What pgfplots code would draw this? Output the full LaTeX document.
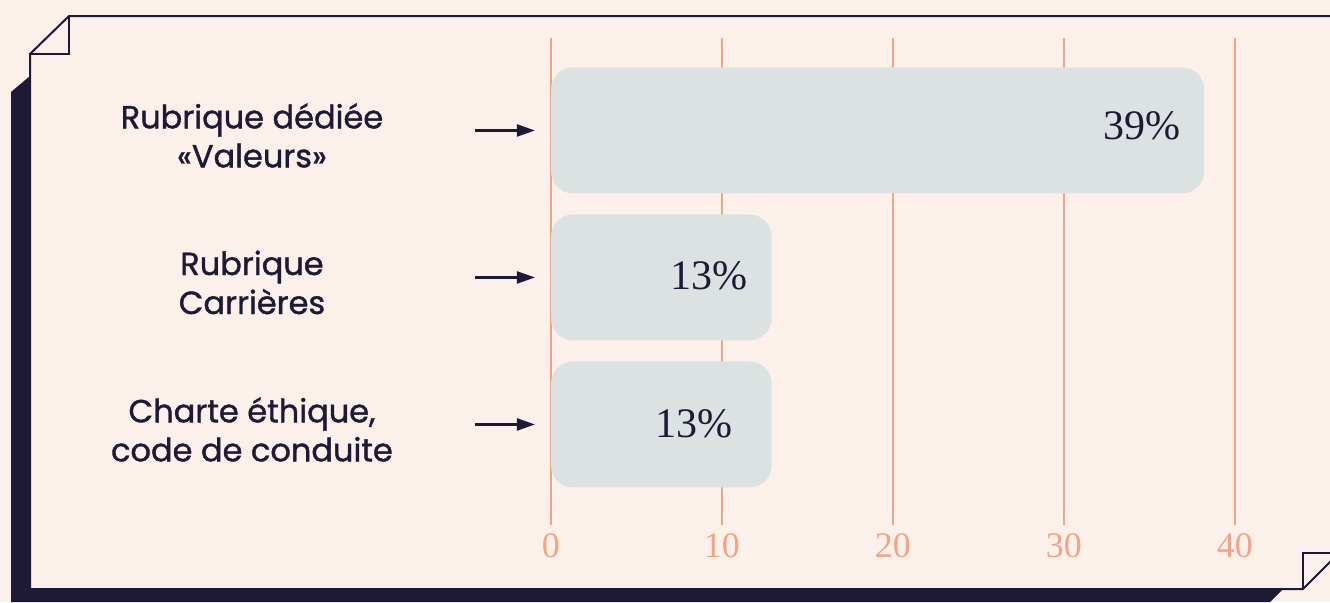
\documentclass[border=0pt]{standalone}
\usepackage{fontspec}
\usepackage{pgfplots}
\pgfplotsset{compat=1.18}
\usetikzlibrary{arrows.meta}
\setmainfont{Poppins}
\newfontfamily\labfont{Poppins}[FakeBold=1.2]
\newfontfamily\numfont{Liberation Serif}
\definecolor{bg}{HTML}{FCF1EA}
\definecolor{navy}{HTML}{1E1A35}
\definecolor{salmon}{HTML}{F2A487}
\definecolor{barc}{HTML}{DCE2E2}
\begin{document}
\begin{tikzpicture}
\useasboundingbox (0,0) rectangle (665pt,-301pt);
\fill[bg] (0,0) rectangle (665pt,-301pt);
\begin{scope}[x=0.5pt,y=-0.5pt]
\fill[navy] (30,76) -- (11,92) -- (11,602) -- (1270,602) -- (1283,589) -- (30,589) -- cycle;
\draw[navy, line width=1pt, line join=miter] (1335,16) -- (69,16) -- (30,54) -- (30,589) -- (1303,589) -- (1335,557);
\draw[navy, line width=1pt] (69,16) -- (69,54) -- (30,54);
\draw[navy, line width=1pt] (1335,553) -- (1303,553) -- (1303,589);
\end{scope}
\begin{axis}[
  at={(275.5pt,-19pt)}, anchor=north west,
  scale only axis, width=342pt, height=243.5pt,
  xmin=0, xmax=40, ymin=-0.684, ymax=2.629,
  xbar, bar width=63pt,
  axis line style={draw=none},
  major tick length=0pt,
  xtick={0,10,20,30,40},
  xmajorgrids, grid style={salmon, line width=1.2pt},
  ytick={0,1,2},
  yticklabels={{Charte éthique,\\code de conduite},{Rubrique\\Carrières},{Rubrique dédiée\\«Valeurs»}},
  yticklabel style={align=center, anchor=center, xshift=-149.5pt, yshift=-2.5pt, text=navy, font=\labfont\fontsize{16pt}{19.5pt}\selectfont},
  /pgf/number format/assume math mode=true,
  xticklabel style={font=\numfont\fontsize{18pt}{21pt}\selectfont, text=salmon, yshift=-0.5pt},
  clip=false,
  every node near coord/.append style={anchor=east, inner sep=0pt, text=navy, font=\numfont\fontsize{21pt}{24pt}\selectfont},
]
\addplot[fill=barc, draw=none, rounded corners=11pt, bar shift=0pt,
  nodes near coords={39\%}, every node near coord/.append style={anchor=east, xshift=-11.5pt, yshift=2.5pt}]
  coordinates {(38.2,2)};
\addplot[fill=barc, draw=none, rounded corners=11pt, bar shift=0pt,
  nodes near coords={13\%}, every node near coord/.append style={anchor=east, xshift=-12pt, yshift=1pt}]
  coordinates {(12.9,1)};
\addplot[fill=barc, draw=none, rounded corners=11pt, bar shift=0pt,
  nodes near coords={13\%}, every node near coord/.append style={anchor=east, xshift=-19.5pt, yshift=0.5pt}]
  coordinates {(12.9,0)};
\draw[navy, line width=1.2pt, -{Triangle[length=9pt,width=6pt]}] (axis cs:-4.44,2) -- (axis cs:-0.94,2);
\draw[navy, line width=1.2pt, -{Triangle[length=9pt,width=6pt]}] (axis cs:-4.44,1) -- (axis cs:-0.94,1);
\draw[navy, line width=1.2pt, -{Triangle[length=9pt,width=6pt]}] (axis cs:-4.44,0) -- (axis cs:-0.94,0);
\end{axis}
\end{tikzpicture}
\end{document}
